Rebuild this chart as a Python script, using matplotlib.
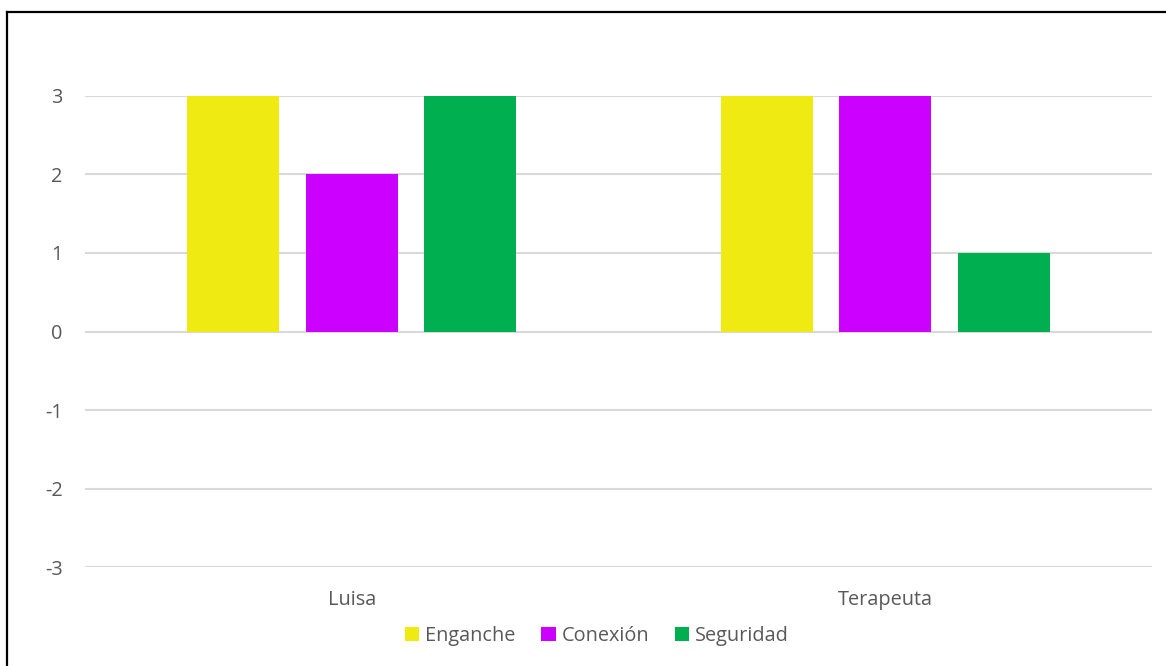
import matplotlib.pyplot as plt
import numpy as np
from matplotlib.lines import Line2D
from matplotlib.patches import Patch

categories = ["Luisa", "Terapeuta"]
series = ["Enganche", "Conexión", "Seguridad"]
enganche = [3, 3]
conexion = [2, 3]
seguridad = [3, 1]
colors = ["#EFEA12", "#CC00FF", "#00B050"]
y_ticks = [-3, -2, -1, 0, 1, 2, 3]

plt.rcParams["font.family"] = ["Open Sans", "DejaVu Sans"]
text_color = "#595959"
fs = 14.3

fig = plt.figure(figsize=(11.66, 6.66), dpi=100)
ax = fig.add_axes([0.0729, 0.1479, 0.9151, 0.7087])

x = np.arange(len(categories))
width = 0.173
step = 0.222
for i, (vals, col) in enumerate(zip([enganche, conexion, seguridad], colors)):
    ax.bar(x + (i - 1) * step, vals, width, color=col, zorder=3, label=series[i])

ax.set_xlim(-0.5, len(categories) - 0.5)
ax.set_ylim(-3, 3)
ax.set_yticks(y_ticks)
ax.set_yticklabels([str(t) for t in y_ticks])
ax.set_xticks(x)
ax.set_xticklabels(categories)
ax.grid(axis="y", color="#D9D9D9", linewidth=1.5, zorder=0)
ax.tick_params(axis="y", length=0, pad=16, labelsize=fs, labelcolor=text_color)
ax.tick_params(axis="x", length=0, pad=16, labelsize=fs, labelcolor=text_color)
for s in ax.spines.values():
    s.set_visible(False)

handles = [Patch(facecolor=c, edgecolor="none") for c in colors]
fig.legend(handles, series, loc="center", bbox_to_anchor=(0.512, 0.045),
           ncol=3, frameon=False, fontsize=fs, labelcolor=text_color,
           handlelength=0.72, handleheight=0.72, handletextpad=0.3,
           columnspacing=1.3)

# frame edges along the left and top
fig.add_artist(Line2D([0.0064, 0.0064], [0, 0.982], color="black", linewidth=1.6,
                      transform=fig.transFigure))
fig.add_artist(Line2D([0.0064, 1.0], [0.982, 0.982], color="black", linewidth=1.6,
                      transform=fig.transFigure))

fig.savefig("out.png", dpi=100, facecolor="white")
